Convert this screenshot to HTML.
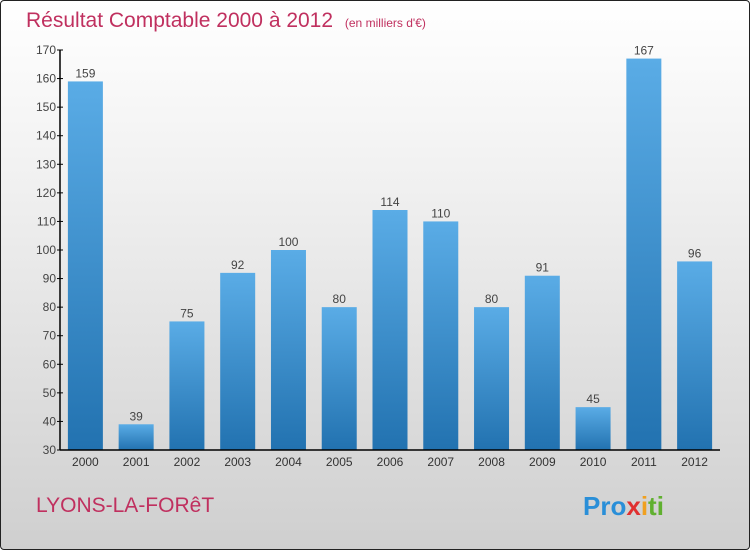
<!DOCTYPE html>
<html><head><meta charset="utf-8"><style>
body{margin:0;width:750px;height:550px;overflow:hidden;font-family:"Liberation Sans",sans-serif}
#frame{position:absolute;left:0;top:0;width:748px;height:548px;border:1px solid #222;border-radius:4px;background:linear-gradient(#ffffff,#f2f2f2 30%,#cfcfcf)}
</style></head><body>
<div id="frame"></div>
<svg id="chart" width="750" height="550" style="position:absolute;left:0;top:0">
<defs>
<linearGradient id="bg" x1="0" y1="0" x2="0" y2="1"><stop offset="0" stop-color="#5aace6"/><stop offset="1" stop-color="#2272b0"/></linearGradient>
</defs>
<text x="26" y="27" font-size="21" fill="#c0305f">Résultat Comptable 2000 à 2012 <tspan font-size="12" dx="6">(en milliers d'€)</tspan></text>
<text x="36" y="512" font-size="21" fill="#c0305f">LYONS-LA-FORêT</text>
<text x="583" y="515" font-size="26" font-weight="bold"><tspan fill="#2a8fd8">Pro</tspan><tspan fill="#e03030">x</tspan><tspan fill="#f0a020">i</tspan><tspan fill="#60b030">ti</tspan></text>
<g id="plot"></g>
</svg>
<script>
const years=["2000","2001","2002","2003","2004","2005","2006","2007","2008","2009","2010","2011","2012"];
const values=[159,39,75,92,100,80,114,110,80,91,45,167,96];
const yTicks=[30,40,50,60,70,80,90,100,110,120,130,140,150,160,170];
const X0=60,X1=720,Y0=450,Y1=50,vmin=30,vmax=170;
const ns="http://www.w3.org/2000/svg";
const g=document.getElementById('plot');
const slot=(X1-X0)/years.length;
const y=v=>Y0-(v-vmin)*(Y0-Y1)/(vmax-vmin);
const xc=i=>X0+slot*(i+0.5);
function mk(t,a){const e=document.createElementNS(ns,t);for(const k in a)e.setAttribute(k,a[k]);g.appendChild(e);return e;}
values.forEach((v,i)=>{
 const r=mk('rect',{x:xc(i)-17.5,y:y(v),width:35,height:Y0-y(v),fill:'url(#bg)'});
 
 
 const t=mk('text',{x:xc(i),y:y(v)-4,'text-anchor':'middle','font-size':12,fill:'#444'});
 t.textContent=v;
 
 
 const l=mk('text',{x:xc(i),y:Y0+16,'text-anchor':'middle','font-size':12,fill:'#333'});
 l.textContent=years[i];
 
 
});
yTicks.forEach(v=>{
 mk('line',{x1:X0-3,x2:X0+3,y1:y(v),y2:y(v),stroke:'#000'});
 const t=mk('text',{x:X0-4,y:y(v)+4,'text-anchor':'end','font-size':12,fill:'#444'});
 t.textContent=v;
 
 
});
const ya=mk('line',{x1:X0,x2:X0,y1:Y1,y2:Y0,stroke:'#000','stroke-width':1.5});


const xa=mk('line',{x1:X0,x2:X1,y1:Y0,y2:Y0,stroke:'#000','stroke-width':1.5});


</script>
</body></html>
